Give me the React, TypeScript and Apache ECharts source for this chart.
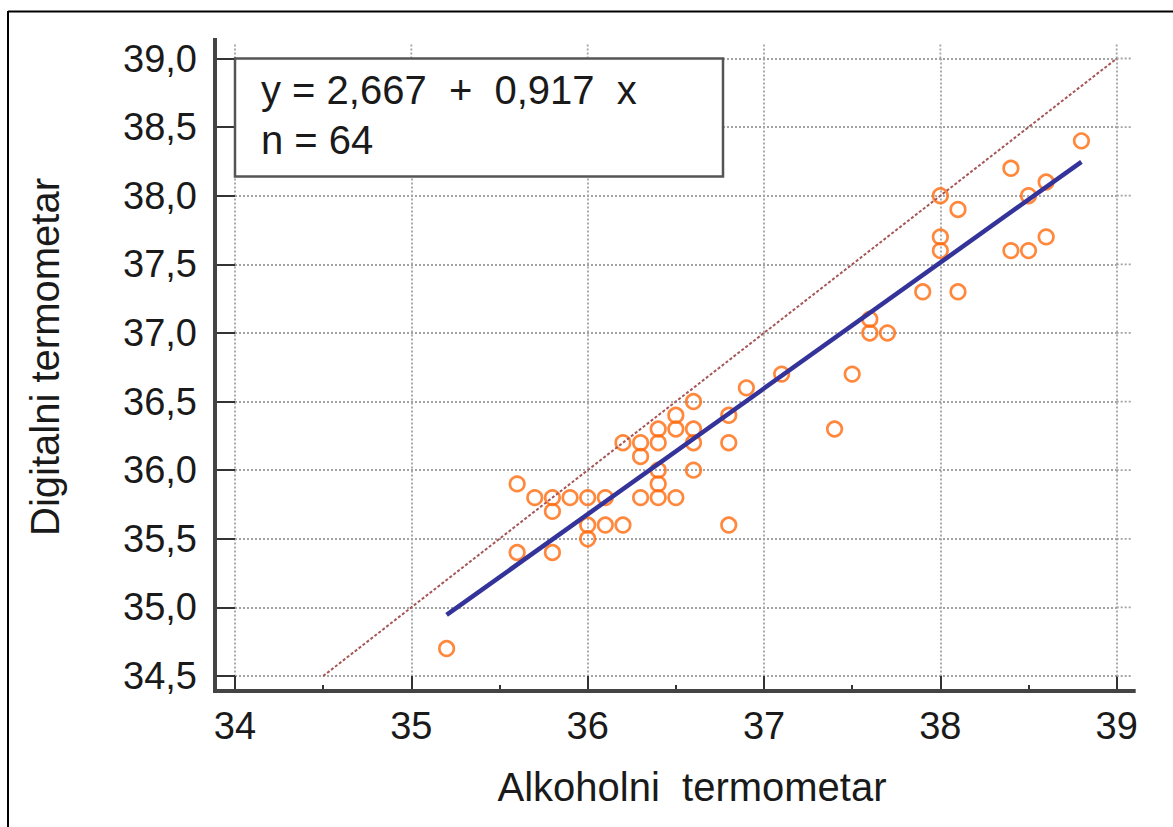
import React, { useEffect, useRef } from "react";
import * as echarts from "echarts";

// ---- data ----
const alkoholni = [
  35.2, 35.6, 35.6, 35.7, 35.8, 35.8, 35.8, 35.9, 36.0, 36.0, 36.0, 36.1, 36.1,
  36.2, 36.2, 36.3, 36.3, 36.3, 36.4, 36.4, 36.4, 36.4, 36.4, 36.5, 36.5, 36.5,
  36.6, 36.6, 36.6, 36.6, 36.8, 36.8, 36.8, 36.9, 37.1, 37.4, 37.5, 37.6, 37.6,
  37.7, 37.9, 38.0, 38.0, 38.0, 38.1, 38.1, 38.4, 38.4, 38.5, 38.5, 38.6, 38.6,
  38.8,
];
const digitalni = [
  34.7, 35.9, 35.4, 35.8, 35.8, 35.7, 35.4, 35.8, 35.8, 35.6, 35.5, 35.8, 35.6,
  35.6, 36.2, 36.2, 36.1, 35.8, 36.3, 36.2, 36.0, 35.9, 35.8, 36.4, 36.3, 35.8,
  36.5, 36.3, 36.2, 36.0, 36.4, 36.2, 35.6, 36.6, 36.7, 36.3, 36.7, 37.1, 37.0,
  37.0, 37.3, 38.0, 37.7, 37.6, 37.9, 37.3, 38.2, 37.6, 38.0, 37.6, 38.1, 37.7,
  38.4,
];
const regressionX = [35.2, 38.8];
const regressionY = [34.945, 38.247];
const identityX = [34.5, 39.0];
const identityY = [34.5, 39.0];
const xTicks = [34, 35, 36, 37, 38, 39];
const yTicks = [34.5, 35.0, 35.5, 36.0, 36.5, 37.0, 37.5, 38.0, 38.5, 39.0];
const equationText = "y = 2,667  +  0,917  x";
const countText = "n = 64";
const xTitle = "Alkoholni  termometar";
const yTitle = "Digitalni termometar";

const W = 1173;
const H = 827;
const GL = 235;
const GR = 56.3;
const GT = 58.5;
const GB = 151;
const Y_OFF = 20;
const X_OFF = 15;
const FONT = '"Liberation Sans", Arial, sans-serif';
const TXT = "#1a1a1a";
const GRIDC = "#a3a3a3";

export default function App() {
  const ref = useRef<HTMLDivElement>(null);
  useEffect(() => {
    document.body.style.margin = "0";
    document.body.style.overflow = "hidden";
    const chart = echarts.init(ref.current!, undefined, { renderer: "svg" });
    const scatterData = alkoholni.map((x, i) => [x, digitalni[i]]);
    const regData = regressionX.map((x, i) => [x, regressionY[i]]);
    const idData = identityX.map((x, i) => [x, identityY[i]]);
    const split = { lineStyle: { color: GRIDC, width: 1.8, type: [2, 2] as any } };
    chart.setOption({
      animation: false,
      backgroundColor: "#fff",
      grid: { left: GL, right: GR, top: GT, bottom: GB, containLabel: false },
      xAxis: {
        type: "value",
        min: 34,
        max: 39,
        interval: 1,
        offset: X_OFF,
        axisLine: { show: false },
        axisTick: { show: true, inside: true, length: X_OFF, lineStyle: { color: "#333", width: 2 } },
        minorTick: { show: true, splitNumber: 2, length: 6, lineStyle: { color: "#333", width: 2 } },
        minorSplitLine: { show: false },
        axisLabel: { margin: 16, fontSize: 38, fontFamily: FONT, color: TXT },
        splitLine: { show: true, ...split },
      },
      yAxis: {
        type: "value",
        min: 34.5,
        max: 39,
        interval: 0.5,
        offset: Y_OFF,
        axisLine: { show: false },
        axisTick: { show: true, inside: true, length: Y_OFF, lineStyle: { color: "#333", width: 2 } },
        axisLabel: {
          margin: 18,
          fontSize: 38,
          fontFamily: FONT,
          color: TXT,
          formatter: (v: number) => v.toFixed(1).replace(".", ","),
        },
        splitLine: { show: true, ...split },
      },
      series: [
        {
          type: "scatter",
          data: scatterData,
          symbol: "circle",
          symbolSize: 14.5,
          itemStyle: { color: "rgba(0,0,0,0)", borderColor: "#FF6A0D", borderWidth: 2.7 },
          z: 2,
        },
        {
          type: "line",
          data: idData,
          symbol: "none",
          lineStyle: { color: "#a65656", width: 2, type: [3, 2] },
          z: 3,
        },
        {
          type: "line",
          data: regData,
          symbol: "none",
          lineStyle: { color: "#34339a", width: 4.5 },
          z: 4,
        },
      ],
    });

    const right = W - GR;
    const bottom = H - GB;
    const stubs: any[] = [];
    xTicks.forEach((v) => {
      const p = chart.convertToPixel({ gridIndex: 0 }, [v, 39]) as number[];
      stubs.push({
        type: "line",
        shape: { x1: p[0], y1: GT - 14, x2: p[0], y2: GT },
        style: { stroke: GRIDC, lineWidth: 1.8, lineDash: [2, 2] },
        z: 1,
      });
    });
    yTicks.forEach((v) => {
      const p = chart.convertToPixel({ gridIndex: 0 }, [39, v]) as number[];
      stubs.push({
        type: "line",
        shape: { x1: p[0], y1: p[1], x2: p[0] + 15, y2: p[1] },
        style: { stroke: GRIDC, lineWidth: 1.8, lineDash: [2, 2] },
        z: 1,
      });
    });
    const boxP = chart.convertToPixel({ gridIndex: 0 }, [34, 39]) as number[];
    const textStyle = (t: string) => ({
      text: t,
      font: `40px ${FONT}`,
      fill: TXT,
      align: "left",
      verticalAlign: "middle",
      textAlign: "left",
      textVerticalAlign: "middle",
    });
    chart.setOption({
      graphic: [
        ...stubs,
        // frame
        { type: "line", shape: { x1: 8, y1: 11.5, x2: W, y2: 11.5 }, style: { stroke: "#000", lineWidth: 2 }, z: 20 },
        { type: "line", shape: { x1: 8, y1: 11, x2: 8, y2: H }, style: { stroke: "#000", lineWidth: 2 }, z: 20 },
        // axis lines
        { type: "line", shape: { x1: GL - Y_OFF, y1: 38, x2: GL - Y_OFF, y2: bottom + X_OFF + 2 }, style: { stroke: "#444", lineWidth: 4 }, z: 20 },
        { type: "line", shape: { x1: GL - Y_OFF - 2, y1: bottom + X_OFF, x2: right + 19, y2: bottom + X_OFF }, style: { stroke: "#444", lineWidth: 4 }, z: 20 },
        // equation box
        {
          type: "rect",
          shape: { x: boxP[0], y: boxP[1], width: 488, height: 118 },
          style: { fill: "#fff", stroke: "#555", lineWidth: 2.5 },
          z: 10,
        },
        { type: "text", x: boxP[0] + 26, y: boxP[1] + 31, style: textStyle(equationText), z: 11 },
        { type: "text", x: boxP[0] + 26, y: boxP[1] + 81, style: textStyle(countText), z: 11 },
        // axis titles
        {
          type: "text",
          x: 692,
          y: 787,
          style: { ...textStyle(xTitle), align: "center", textAlign: "center" },
          z: 11,
        },
        {
          type: "text",
          x: 45,
          y: 357,
          rotation: Math.PI / 2,
          style: { ...textStyle(yTitle), align: "center", textAlign: "center" },
          z: 11,
        },
      ],
    });
    return () => chart.dispose();
  }, []);
  return <div ref={ref} style={{ width: W, height: H, background: "#fff" }} />;
}
